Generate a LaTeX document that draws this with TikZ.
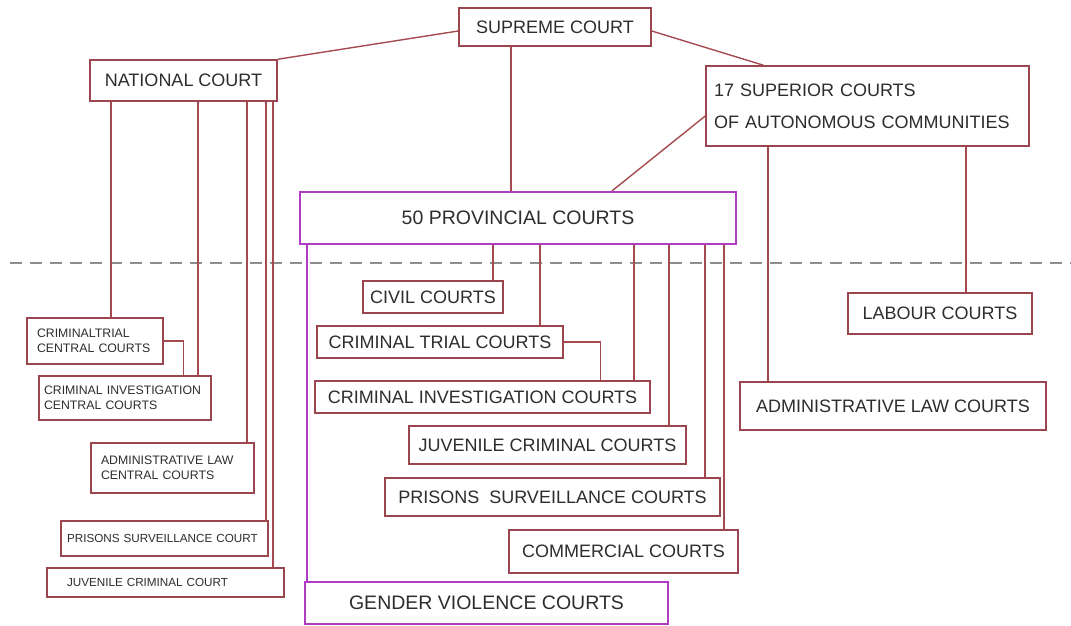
\documentclass[tikz,border=0pt]{standalone}
\usepackage{fontspec}
\setmainfont{Liberation Sans}
\definecolor{cbord}{RGB}{155,70,78}
\definecolor{cline}{RGB}{165,75,80}
\definecolor{cpurp}{RGB}{175,60,195}
\definecolor{cdash}{RGB}{140,140,140}
\definecolor{ctext}{RGB}{45,45,45}
\newcommand\vdrop[4][link]{\draw[#1] ([xshift=#3]#2.south) coordinate (vd) -- (vd |- #4.north);}
\begin{document}
\begin{tikzpicture}[x=1pt,y=-1pt,
  box/.style={draw=cbord,line width=1.5pt,fill=white,text=ctext,inner sep=0pt,font=\fontsize{18}{22}\selectfont},
  pbox/.style={box,draw=cpurp,line width=2.2pt,font=\fontsize{19.5}{22}\selectfont},
  sbox/.style={box,font=\fontsize{11.7}{15}\selectfont,align=left},
  tbox/.style={box,font=\fontsize{12.3}{14.5}\selectfont,align=left},
  link/.style={draw=cline,line width=1.4pt},
  plink/.style={draw=cpurp,line width=2.2pt},
  sep/.style={draw=cdash,line width=2pt,dash pattern=on 12pt off 8pt}]
\useasboundingbox (0,0) rectangle (1071,626);
\draw[sep] (10,263) -- (1071,263);

% top level
\node[box,minimum width=192pt,minimum height=38pt] (sup) at (555,27) {SUPREME COURT};
\node[box,minimum width=187pt,minimum height=41pt] (nat) at (183.5,80.5) {NATIONAL COURT};
\node[box,text width=307pt,inner xsep=8pt,minimum height=80pt,align=left,font=\fontsize{18}{32}\selectfont] (sac) at (867.5,106) {17 SUPERIOR COURTS\\OF AUTONOMOUS COMMUNITIES};
\node[pbox,minimum width=436pt,minimum height=52pt] (prov) at (518,218) {50 PROVINCIAL COURTS};

% provincial level
\node[box,minimum width=140pt,minimum height=32pt] (civil) at (433,297) {CIVIL COURTS};
\node[box,minimum width=246pt,minimum height=32pt] (ctc) at (440,342) {CRIMINAL TRIAL COURTS};
\node[box,minimum width=335pt,minimum height=32pt] (cic) at (482.5,397) {CRIMINAL INVESTIGATION COURTS};
\node[box,minimum width=277pt,minimum height=38pt] (jcc) at (547.5,445) {JUVENILE CRIMINAL COURTS};
\node[box,minimum width=335pt,minimum height=38pt] (psc) at (552.5,497) {PRISONS\ \ SURVEILLANCE COURTS};
\node[box,minimum width=229pt,minimum height=43pt] (com) at (623.5,551.5) {COMMERCIAL COURTS};
\node[pbox,minimum width=363pt,minimum height=42pt] (gvc) at (486.5,603) {GENDER VIOLENCE COURTS};

% autonomous communities level
\node[box,minimum width=184pt,minimum height=41pt] (lab) at (940,313.5) {LABOUR COURTS};
\node[box,minimum width=306pt,minimum height=48pt] (alc) at (893,406) {ADMINISTRATIVE LAW COURTS};

% national court level
\node[tbox,text width=116pt,inner xsep=10pt,minimum height=46pt] (ctcc) at (95,341) {CRIMINALTRIAL\\CENTRAL COURTS};
\node[tbox,text width=162pt,inner xsep=5pt,minimum height=44pt] (cicc) at (125,398) {CRIMINAL INVESTIGATION\\CENTRAL COURTS};
\node[tbox,text width=143pt,inner xsep=10pt,minimum height=50pt] (alcc) at (172.5,468) {ADMINISTRATIVE LAW\\CENTRAL COURTS};
\node[sbox,text width=195pt,inner xsep=6pt,minimum height=35pt] (pscc) at (164.5,538.5) {PRISONS SURVEILLANCE COURT};
\node[sbox,text width=197pt,inner xsep=20pt,minimum height=29pt] (jccc) at (165.5,582.5) {JUVENILE CRIMINAL COURT};

% links from the top
\draw[link] ([yshift=-4pt]sup.west) -- (nat.north east);
\draw[link] ([yshift=-4pt]sup.east) -- ([xshift=-104pt]sac.north);
\vdrop{sup}{-44pt}{prov}
\draw[link] ([yshift=-10pt]sac.west) -- ([xshift=94pt]prov.north);
\vdrop{sac}{-99.5pt}{alc}
\vdrop{sac}{98.5pt}{lab}

% national court links
\vdrop{nat}{-72.5pt}{ctcc}
\vdrop{nat}{14.5pt}{cicc}
\vdrop{nat}{63.5pt}{alcc}
\vdrop{nat}{82.5pt}{pscc}
\vdrop{nat}{89.5pt}{jccc}
\draw[link] (ctcc.east) -- ++(20,0) coordinate (e1) -- (e1 |- cicc.north);

% provincial links
\vdrop{prov}{-25pt}{civil}
\vdrop{prov}{22pt}{ctc}
\vdrop{prov}{116pt}{cic}
\vdrop{prov}{151pt}{jcc}
\vdrop{prov}{187pt}{psc}
\vdrop{prov}{206pt}{com}
\vdrop[plink]{prov}{-211pt}{gvc}
\draw[link] (ctc.east) -- ++(37,0) coordinate (e2) -- (e2 |- cic.north);
\end{tikzpicture}
\end{document}
